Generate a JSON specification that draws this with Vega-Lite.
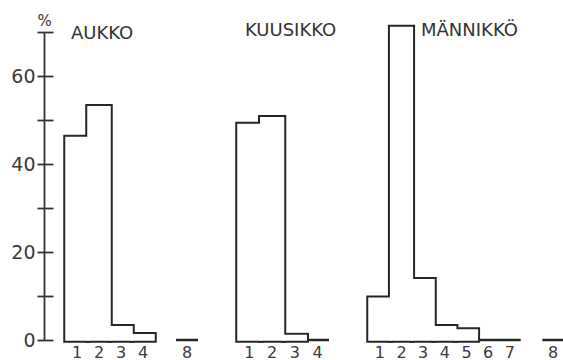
{
  "$schema": "https://vega.github.io/schema/vega-lite/v6.json",
  "background": "white",
  "padding": {"left": 10, "top": 13, "right": 0, "bottom": 0},
  "spacing": 40,
  "bounds": "flush",
  "config": {
    "view": {"stroke": null},
    "font": "DejaVu Sans",
    "axisX": {
      "domain": false,
      "ticks": false,
      "grid": false,
      "title": null,
      "labelAngle": 0,
      "labelFontSize": 16,
      "labelColor": "#3a3a3a",
      "labelPadding": 4,
      "labelOverlap": false
    },
    "title": {"fontSize": 18, "fontWeight": "normal", "color": "#333333", "anchor": "start", "frame": "group", "baseline": "alphabetic"}
  },
  "data": {
    "values": [
      {"group": "AUKKO", "cls": "1", "pct": 46},
      {"group": "AUKKO", "cls": "2", "pct": 53},
      {"group": "AUKKO", "cls": "3", "pct": 3},
      {"group": "AUKKO", "cls": "4", "pct": 1.2},
      {"group": "AUKKO", "cls": "8", "pct": 0},
      {"group": "KUUSIKKO", "cls": "1", "pct": 49},
      {"group": "KUUSIKKO", "cls": "2", "pct": 50.5},
      {"group": "KUUSIKKO", "cls": "3", "pct": 1},
      {"group": "KUUSIKKO", "cls": "4", "pct": 0},
      {"group": "MÄNNIKKÖ", "cls": "1", "pct": 9.5},
      {"group": "MÄNNIKKÖ", "cls": "2", "pct": 71},
      {"group": "MÄNNIKKÖ", "cls": "3", "pct": 13.7},
      {"group": "MÄNNIKKÖ", "cls": "4", "pct": 3},
      {"group": "MÄNNIKKÖ", "cls": "5", "pct": 2.3},
      {"group": "MÄNNIKKÖ", "cls": "6", "pct": 0},
      {"group": "MÄNNIKKÖ", "cls": "7", "pct": 0},
      {"group": "MÄNNIKKÖ", "cls": "8", "pct": 0}
    ]
  },
  "hconcat": [
    {
      "title": {"text": "AUKKO", "dx": 27, "dy": 11, "offset": -19},
      "width": 154,
      "height": 308,
      "transform": [{"filter": "datum.group === 'AUKKO'"}],
      "encoding": {
        "x": {
          "field": "cls", "type": "ordinal",
          "scale": {"domain": ["1", "2", "3", "4", " ", "8"], "paddingInner": 0, "paddingOuter": 0.5, "align": 1}
        }
      },
      "layer": [
        {
          "mark": {"type": "bar", "fill": "white", "stroke": "#262626"},
          "encoding": {
            "y": {
              "field": "pct", "type": "quantitative",
              "scale": {"domain": [0, 70], "nice": false},
              "axis": {
                "values": [0, 10, 20, 30, 40, 50, 60, 70],
                "labelExpr": "datum.value % 20 === 0 ? datum.label : ''",
                "grid": false,
                "tickSize": 7,
                "tickWidth": 1.8,
                "tickColor": "#333333",
                "domainWidth": 1.8,
                "domainColor": "#333333",
                "labelPadding": 2,
                "labelFontSize": 19,
                "labelColor": "#3a3a3a",
                "title": "%",
                "titleAngle": 0,
                "titleX": 0,
                "titleY": -12,
                "titleAlign": "center",
                "titleBaseline": "middle",
                "titleFontSize": 15,
                "titleFontWeight": "normal",
                "titleColor": "#333333"
              }
            },
            "strokeWidth": {"condition": {"test": "datum.pct === 0", "value": 2.5}, "value": 5.5}
          }
        },
        {
          "transform": [{"filter": "datum.pct > 0"}],
          "mark": {"type": "bar", "fill": "white", "stroke": "white", "strokeWidth": 1.5},
          "encoding": {
            "y": {
              "field": "pct", "type": "quantitative",
              "axis": {
                "orient": "left",
                "values": [0, 10, 20, 30, 40, 50, 60, 70],
                "labels": false,
                "domain": false,
                "grid": false,
                "tickSize": -9,
                "tickWidth": 1.8,
                "tickColor": "#333333",
                "title": null
              }
            }
          }
        }
      ],
      "resolve": {"axis": {"y": "independent"}}
    },
    {
      "title": {"text": "KUUSIKKO", "dx": 7, "dy": 8, "offset": 0},
      "width": 91,
      "height": 308,
      "transform": [{"filter": "datum.group === 'KUUSIKKO'"}],
      "encoding": {
        "x": {
          "field": "cls", "type": "ordinal",
          "scale": {"domain": ["1", "2", "3", "4"], "paddingInner": 0, "paddingOuter": 0}
        }
      },
      "layer": [
        {
          "mark": {"type": "bar", "fill": "white", "stroke": "#262626"},
          "encoding": {
            "y": {"field": "pct", "type": "quantitative", "scale": {"domain": [0, 70], "nice": false}, "axis": null},
            "strokeWidth": {"condition": {"test": "datum.pct === 0", "value": 2.5}, "value": 5.5}
          }
        },
        {
          "transform": [{"filter": "datum.pct > 0"}],
          "mark": {"type": "bar", "fill": "white", "stroke": "white", "strokeWidth": 1.5},
          "encoding": {
            "y": {"field": "pct", "type": "quantitative", "axis": null}
          }
        }
      ]
    },
    {
      "title": {"text": "MÄNNIKKÖ", "dx": 52, "dy": 8, "offset": -7},
      "width": 195,
      "height": 308,
      "transform": [{"filter": "datum.group === 'MÄNNIKKÖ'"}],
      "encoding": {
        "x": {
          "field": "cls", "type": "ordinal",
          "scale": {"domain": ["1", "2", "3", "4", "5", "6", "7", " ", "8"], "paddingInner": 0, "paddingOuter": 0}
        }
      },
      "layer": [
        {
          "mark": {"type": "bar", "fill": "white", "stroke": "#262626"},
          "encoding": {
            "y": {"field": "pct", "type": "quantitative", "scale": {"domain": [0, 70], "nice": false}, "axis": null},
            "strokeWidth": {"condition": {"test": "datum.pct === 0", "value": 2.5}, "value": 5.5}
          }
        },
        {
          "transform": [{"filter": "datum.pct > 0"}],
          "mark": {"type": "bar", "fill": "white", "stroke": "white", "strokeWidth": 1.5},
          "encoding": {
            "y": {"field": "pct", "type": "quantitative", "axis": null}
          }
        }
      ]
    }
  ]
}
